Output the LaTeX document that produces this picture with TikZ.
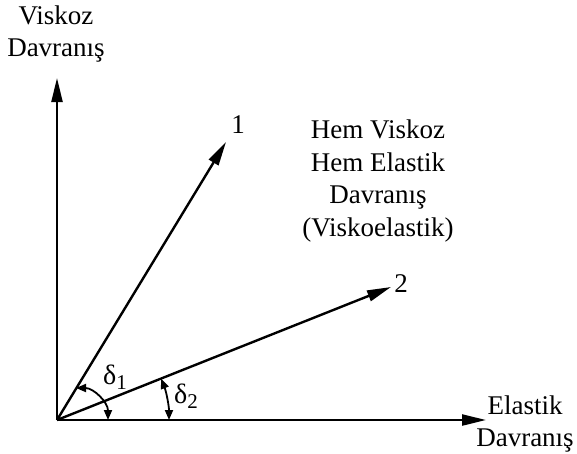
\documentclass[tikz,border=0pt]{standalone}
\usepackage{fontspec}
\setmainfont{Liberation Serif}
\usetikzlibrary{arrows.meta}
\begin{document}
\begin{tikzpicture}[x=1pt,y=-1pt,
  axis/.style={line width=2.4pt,-{Triangle[length=24pt,width=11pt]}},
  arcarrow/.style={line width=1.8pt,{Triangle[length=10pt,width=8pt]}-{Triangle[length=10pt,width=8pt]}},
  lbl/.style={font=\fontsize{27}{32.5}\selectfont, align=center, inner sep=0pt},
  dlbl/.style={font=\fontsize{28}{28}\selectfont, inner sep=0pt}]
\useasboundingbox (0,0) rectangle (577,453);
\coordinate (O) at (57,420);
\coordinate (Ytip) at (57,78);
\coordinate (Xtip) at (486,420);
\coordinate (T1) at (226,142);
\coordinate (T2) at (391,287);
\draw[axis] (O) -- (Ytip);
\draw[axis] (O) -- (Xtip);
\draw[axis] (O) -- (T1);
\draw[axis] (O) -- (T2);
\draw[arcarrow] (76,388) arc[start angle=-90,end angle=0,radius=32];
\draw[arcarrow] ([shift={(-21.6:112)}]O) arc[start angle=-21.6,end angle=0,radius=112];
\node[lbl] (ylab) at (56,34) {Viskoz\\Davranış};
\node[lbl] (xlab) at (525,424) {Elastik\\Davranış};
\node[lbl] (one) at (238,125) {1};
\node[lbl] (two) at (401,284) {2};
\node[lbl] (mid) at (378,181) {Hem Viskoz\\Hem Elastik\\Davranış\\(Viskoelastik)};
\node[dlbl] (d1) at (115,377) {δ\raisebox{-0.35ex}{\fontsize{21}{21}\selectfont 1}};
\node[dlbl] (d2) at (186,396) {δ\raisebox{-0.35ex}{\fontsize{21}{21}\selectfont 2}};
\end{tikzpicture}
\end{document}
